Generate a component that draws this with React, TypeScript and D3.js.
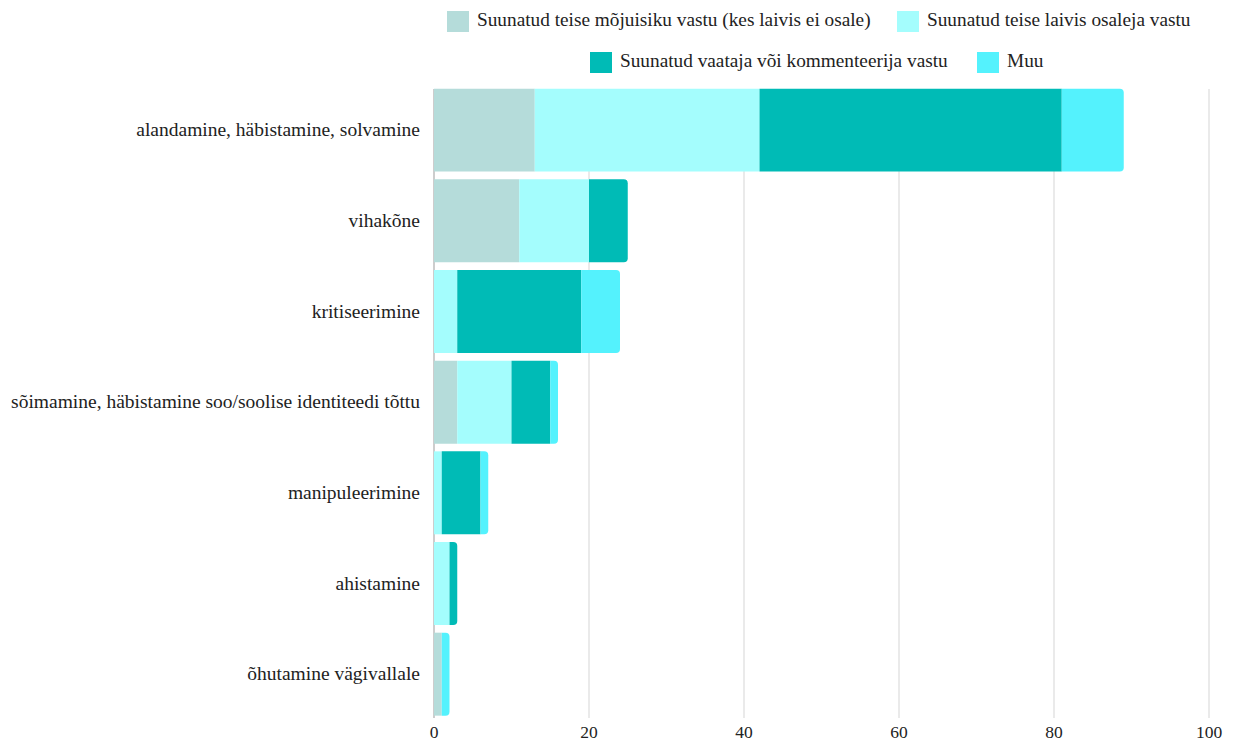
import React, { useEffect, useRef } from "react";
import * as d3 from "d3";

const categories = [
  "alandamine, häbistamine, solvamine",
  "vihakõne",
  "kritiseerimine",
  "sõimamine, häbistamine soo/soolise identiteedi tõttu",
  "manipuleerimine",
  "ahistamine",
  "õhutamine vägivallale",
];
const seriesNames = [
  "Suunatud teise mõjuisiku vastu (kes laivis ei osale)",
  "Suunatud teise laivis osaleja vastu",
  "Suunatud vaataja või kommenteerija vastu",
  "Muu",
];
const mojuisik = [13, 11, 0, 3, 0, 0, 1];
const osaleja = [29, 9, 3, 7, 1, 2, 0];
const vaataja = [39, 5, 16, 5, 5, 1, 0];
const muu = [8, 0, 5, 1, 1, 0, 1];
const xTicks = [0, 20, 40, 60, 80, 100];
const colors = ["#b5dcda", "#a4fdfd", "#00bbb6", "#54f2fd"];

const W = 1234;
const H = 742;
const FONT = "Liberation Serif";

export default function App() {
  const ref = useRef<SVGSVGElement | null>(null);
  useEffect(() => {
    const svg = d3.select(ref.current);
    svg.selectAll("*").remove();
    const series = [mojuisik, osaleja, vaataja, muu];
    const rows = categories.map((c, i) => ({
      cat: c,
      s0: series[0][i],
      s1: series[1][i],
      s2: series[2][i],
      s3: series[3][i],
    }));
    const keys = ["s0", "s1", "s2", "s3"];
    const stacked = d3.stack<any>().keys(keys)(rows);

    const x = d3.scaleLinear().domain([0, 100]).range([434, 1209]);
    const y = d3
      .scaleBand<string>()
      .domain(categories)
      .range([84.8, 719.5])
      .paddingInner(0.085)
      .paddingOuter(0.0425);

    const g = svg.append("g");
    g.selectAll("line.grid")
      .data(xTicks.filter((t) => t > 0))
      .join("line")
      .attr("x1", (d) => x(d))
      .attr("x2", (d) => x(d))
      .attr("y1", 89)
      .attr("y2", 718)
      .attr("stroke", "#e3e3e3")
      .attr("stroke-width", 1.5);
    g.append("line")
      .attr("x1", x(0))
      .attr("x2", x(0))
      .attr("y1", 89)
      .attr("y2", 718)
      .attr("stroke", "#bdbdbd")
      .attr("stroke-width", 1.5);

    const r = 4;
    stacked.forEach((layer, li) => {
      layer.forEach((d, i) => {
        const x0 = x(d[0]);
        const x1 = x(d[1]);
        const w = x1 - x0;
        if (w <= 0) return;
        const yy = y(categories[i])!;
        const h = y.bandwidth();
        const total = d3.sum(series, (s) => s[i]);
        const isLast = Math.abs(d[1] - total) < 1e-9;
        let path: string;
        if (isLast) {
          const rr = Math.min(r, w);
          path = `M${x0},${yy}H${x1 - rr}A${rr},${rr} 0 0 1 ${x1},${yy + rr}V${yy + h - rr}A${rr},${rr} 0 0 1 ${x1 - rr},${yy + h}H${x0}Z`;
        } else {
          path = `M${x0},${yy}H${x1}V${yy + h}H${x0}Z`;
        }
        g.append("path").attr("d", path).attr("fill", colors[li]);
      });
    });

    g.selectAll("text.cat")
      .data(categories)
      .join("text")
      .attr("class", "cat")
      .attr("x", 420)
      .attr("y", (d) => y(d)! + y.bandwidth() / 2)
      .attr("dy", "0.32em")
      .attr("text-anchor", "end")
      .attr("font-family", FONT)
      .attr("font-size", 19.5)
      .attr("fill", "#222")
      .text((d) => d);

    g.selectAll("text.tick")
      .data(xTicks)
      .join("text")
      .attr("class", "tick")
      .attr("x", (d) => x(d))
      .attr("y", 732)
      .attr("dy", "0.34em")
      .attr("text-anchor", "middle")
      .attr("font-family", FONT)
      .attr("font-size", 17.5)
      .attr("fill", "#222")
      .text((d) => String(d));

    const legendPos = [
      { x: 447, y: 21 },
      { x: 897, y: 21 },
      { x: 590, y: 62 },
      { x: 977, y: 62 },
    ];
    seriesNames.forEach((name, i) => {
      const p = legendPos[i];
      g.append("rect")
        .attr("x", p.x)
        .attr("y", p.y - 10)
        .attr("width", 22)
        .attr("height", 21)
        .attr("fill", colors[i]);
      g.append("text")
        .attr("x", p.x + 30)
        .attr("y", p.y - 1)
        .attr("dy", "0.32em")
        .attr("font-family", FONT)
        .attr("font-size", 19.3)
        .attr("fill", "#222")
        .text(name);
    });
  }, []);
  return (
    <svg
      ref={ref}
      width={W}
      height={H}
      style={{ position: "absolute", left: 0, top: 0, background: "#fff" }}
    />
  );
}
